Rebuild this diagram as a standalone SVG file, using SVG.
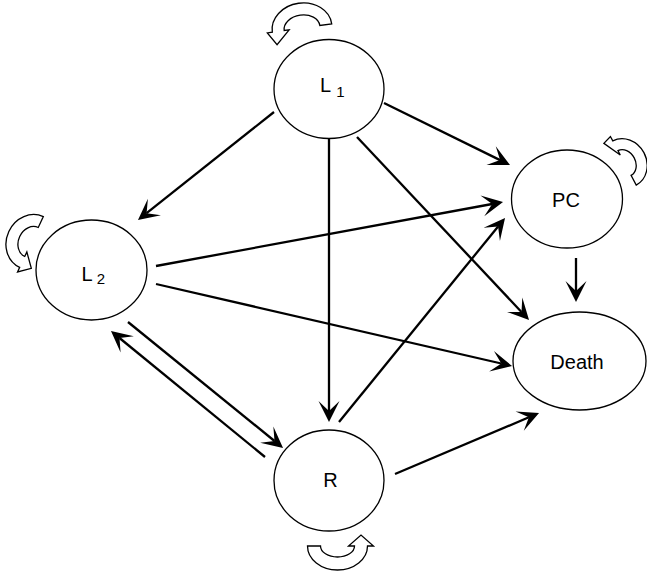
<svg xmlns="http://www.w3.org/2000/svg" width="647" height="572" viewBox="0 0 647 572">
<style>
.node{fill:#fff;stroke:#000;stroke-width:1.3}
.lbl{font-family:"Liberation Sans",Arial,Helvetica,sans-serif;font-size:20px;fill:#000}
.sub{font-size:15px}
.edge{fill:none;stroke:#000;stroke-width:2.3;marker-end:url(#ah)}
.loop{fill:#fff;stroke:#000;stroke-width:1.3;stroke-linejoin:miter}
</style>
<defs>
<marker id="ah" markerUnits="userSpaceOnUse" markerWidth="24" markerHeight="24" viewBox="-12 -12 24 24" refX="0" refY="0" orient="auto">
<path d="M11,0 L-10,-10.5 L0,0 L-10,10.5 Z" fill="#000"/>
</marker>
</defs>
<rect width="647" height="572" fill="#fff"/>
<g id="connectors">
<path class="edge" d="M274,112 L146.6,213.2"/>
<path class="edge" d="M384,103 L500.1,160.1"/>
<path class="edge" d="M329,137 L329,411"/>
<path class="edge" d="M357,137 L521.5,312"/>
<path class="edge" d="M156,266 L492.2,204"/>
<path class="edge" d="M156,284 L501.3,363.5"/>
<path class="edge" d="M128,322 L274.5,441"/>
<path class="edge" d="M265,457 L119.5,338"/>
<path class="edge" d="M339,422 L498.1,226.5"/>
<path class="edge" d="M395,474 L528.9,417.3"/>
<path class="edge" d="M576,258 L576,291"/>
<g id="self-loops">
<path class="loop" transform="translate(302,28) rotate(-8)" d="M30 0 A30 25 0 0 0 -30 0 L-35 0 L-27 13 L-13 0 L-18 0 A18 13 0 0 1 18 0 Z"/>
<path class="loop" transform="translate(31.5,242) rotate(-65)" d="M28 0 A28 25 0 0 0 -28 0 L-33 0 L-24 11 L-11 0 L-16 0 A16 13 0 0 1 16 0 Z"/>
<path class="loop" transform="translate(624.5,163) rotate(62)" d="M25 0 A25 22 0 0 0 -25 0 L-30 0 L-27 9 L-9 0 L-14 0 A14 11 0 0 1 14 0 Z"/>
<path class="loop" transform="translate(337.5,546) rotate(180)" d="M30 0 A30 24 0 0 0 -30 0 L-36 0 L-23.5 11 L-11 0 L-17 0 A17 11 0 0 1 17 0 Z"/>
</g>
</g>
<g id="L1">
<ellipse class="node" cx="329" cy="89" rx="55" ry="49.5"/>
<text class="lbl" x="320" y="92">L<tspan class="sub" dx="5" dy="5">1</tspan></text>
</g>
<g id="L2">
<ellipse class="node" cx="91.5" cy="270" rx="55.5" ry="50"/>
<text class="lbl" x="81.5" y="281">L<tspan class="sub" dx="4" dy="3">2</tspan></text>
</g>
<g id="PC">
<ellipse class="node" cx="567" cy="199" rx="55.5" ry="49"/>
<text class="lbl" x="566" y="207" text-anchor="middle">PC</text>
</g>
<g id="R">
<ellipse class="node" cx="329" cy="480.5" rx="55" ry="50.5"/>
<text class="lbl" x="330.5" y="487" text-anchor="middle">R</text>
</g>
<g id="Death">
<ellipse class="node" cx="579.5" cy="361" rx="66.5" ry="49"/>
<text class="lbl" x="577" y="369" text-anchor="middle">Death</text>
</g>
</svg>
